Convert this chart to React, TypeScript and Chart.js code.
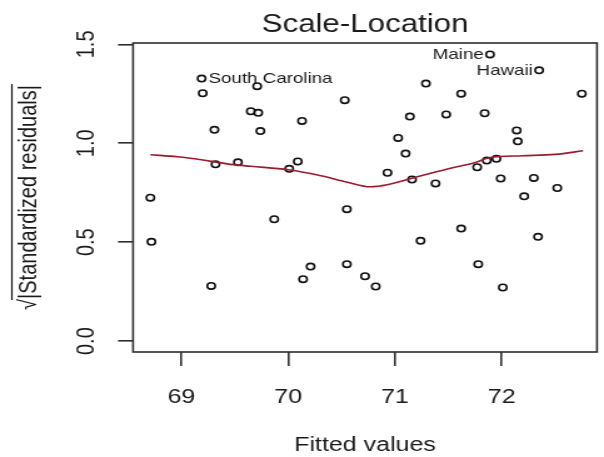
import { useEffect, useRef } from "react";
import { Chart, registerables } from "chart.js";

Chart.register(...registerables);

// ---- data ----
const fittedValues = [
  68.71, 68.72, 69.19, 69.2, 69.28, 69.31, 69.32, 69.53, 69.65, 69.72,
  69.71, 69.74, 69.87, 70.01, 70.09, 70.13, 70.14, 70.21, 70.53, 70.55,
  70.55, 70.72, 70.82, 70.93, 71.03, 71.1, 71.16, 71.14, 71.24, 71.29,
  71.38, 71.48, 71.62, 71.62, 71.89, 71.78, 71.77, 71.86, 71.84, 71.95,
  71.99, 72.01, 72.14, 72.15, 72.21, 72.3, 72.34, 72.35, 72.52, 72.75,
];
const sqrtStdResiduals = [
  0.725, 0.502, 1.327, 1.253, 0.279, 1.068, 0.894, 0.904, 1.162, 1.154,
  1.289, 1.062, 0.616, 0.871, 0.908, 1.113, 0.313, 0.377, 1.218, 0.667,
  0.389, 0.328, 0.276, 0.851, 1.027, 0.948, 0.817, 1.135, 0.507, 1.302,
  0.797, 1.146, 1.251, 0.569, 1.449, 0.389, 0.879, 0.913, 1.152, 0.922,
  0.822, 0.271, 1.065, 1.01, 0.732, 0.825, 0.527, 1.369, 0.774, 1.251,
];
const smoothX = [
  68.71, 68.965, 69.187, 69.428, 69.65, 70.002, 70.307, 70.557, 70.77,
  70.928, 71.178, 71.483, 71.761, 71.881, 72.196, 72.502, 72.761,
];
const smoothY = [
  0.942, 0.932, 0.917, 0.896, 0.884, 0.866, 0.836, 0.803, 0.78,
  0.79, 0.826, 0.869, 0.904, 0.927, 0.937, 0.944, 0.962,
];
const xTicks = [69, 70, 71, 72];
const yTicks = [0, 0.5, 1.0, 1.5];
const idIndex = [2, 34, 47];
const idNames = ["South Carolina", "Maine", "Hawaii"];
const chartTitle = "Scale-Location";
const xTitle = "Fitted values";
const yTitle = "√|Standardized residuals|";

const X_MIN = 68.548;
const X_MAX = 72.892;
const Y_MIN = -0.055;
const Y_MAX = 1.507;

// drawing surface is narrower and stretched horizontally by CSS (like the reference)
const CANVAS_W = 483;
const DISPLAY_W = 604;
const H = 457;
const FAMILY = '"Liberation Sans", Arial, Helvetica, sans-serif';
const INK = "#1a1a1a";
const AXIS = "#2e2e2e";

const boxPlugin = {
  id: "rbox",
  afterDatasetsDraw(chart: any) {
    const { ctx, chartArea: a } = chart;
    ctx.save();
    ctx.strokeStyle = AXIS;
    ctx.lineWidth = 1.6;
    ctx.strokeRect(a.left, a.top, a.right - a.left, a.bottom - a.top);
    ctx.restore();
  },
};

const idLabelPlugin = {
  id: "idlabels",
  afterDatasetsDraw(chart: any) {
    const { ctx } = chart;
    const meta = chart.getDatasetMeta(0);
    const mid = (X_MIN + X_MAX) / 2;
    ctx.save();
    ctx.font = `15px ${FAMILY}`;
    ctx.fillStyle = INK;
    ctx.textBaseline = "middle";
    idIndex.forEach((idx, k) => {
      const el = meta.data[idx];
      if (!el) return;
      const right = fittedValues[idx] < mid;
      ctx.textAlign = right ? "left" : "right";
      ctx.fillText(idNames[k], right ? el.x + 5.5 : el.x - 5, el.y + 0.5);
    });
    ctx.restore();
  },
};

const overbarPlugin = {
  id: "sqrtbar",
  afterDraw(chart: any) {
    const ys = chart.scales.y;
    const { ctx } = chart;
    ctx.save();
    ctx.font = `20px ${FAMILY}`;
    const total = ctx.measureText(yTitle).width;
    const wr = ctx.measureText("√").width;
    const cx = ys.left + 11 + 12;
    const cy = (ys.top + ys.bottom) / 2;
    ctx.translate(cx, cy);
    ctx.rotate(-Math.PI / 2);
    ctx.beginPath();
    ctx.moveTo(-total / 2 + wr * 0.9, -13.5);
    ctx.lineTo(total / 2 + 1, -13.5);
    ctx.lineWidth = 1.2;
    ctx.strokeStyle = INK;
    ctx.stroke();
    ctx.restore();
  },
};

export default function App() {
  const ref = useRef<HTMLCanvasElement | null>(null);

  useEffect(() => {
    document.body.style.margin = "0";
    const canvas = ref.current;
    if (!canvas) return;
    const points = fittedValues.map((x, i) => ({ x, y: sqrtStdResiduals[i] }));
    const smooth = smoothX.map((x, i) => ({ x, y: smoothY[i] }));

    const chart = new Chart(canvas, {
      type: "scatter",
      data: {
        datasets: [
          {
            type: "scatter",
            data: points,
            pointStyle: "circle",
            pointRadius: 3.2,
            pointBorderWidth: 1.6,
            borderColor: "#111111",
            backgroundColor: "rgba(0,0,0,0)",
            order: 2,
          } as any,
          {
            type: "line",
            data: smooth,
            borderColor: "#9c1a2c",
            borderWidth: 1.6,
            pointRadius: 0,
            fill: false,
            cubicInterpolationMode: "monotone",
            order: 1,
          } as any,
        ],
      },
      options: {
        responsive: false,
        animation: false,
        devicePixelRatio: 1,
        layout: { padding: { left: 0, right: 1.6, top: 0, bottom: 0 } },
        plugins: {
          legend: { display: false },
          tooltip: { enabled: false },
          title: {
            display: true,
            fullSize: false,
            text: chartTitle,
            color: INK,
            font: { family: FAMILY, size: 25, weight: "normal", lineHeight: 1.2 },
            padding: { top: 10.5, bottom: 2.5 },
          },
        },
        scales: {
          x: {
            type: "linear",
            position: "bottom",
            min: X_MIN,
            max: X_MAX,
            afterBuildTicks: (s: any) => {
              s.ticks = xTicks.map((v) => ({ value: v }));
            },
            afterFit: (s: any) => {
              s.height = 105;
            },
            grid: {
              display: true,
              drawOnChartArea: false,
              drawTicks: true,
              tickLength: 14,
              color: AXIS,
              lineWidth: 1.6,
            },
            border: { display: false },
            ticks: {
              autoSkip: false,
              maxRotation: 0,
              minRotation: 0,
              padding: 19,
              color: INK,
              font: { family: FAMILY, size: 20, lineHeight: 1.2 },
              callback: (v: any) => String(v),
            },
            title: {
              display: true,
              text: xTitle,
              color: INK,
              font: { family: FAMILY, size: 20, lineHeight: 1.2 },
              padding: { top: 0, bottom: 0 },
            },
          },
          y: {
            type: "linear",
            min: Y_MIN,
            max: Y_MAX,
            afterBuildTicks: (s: any) => {
              s.ticks = yTicks.map((v) => ({ value: v }));
            },
            afterFit: (s: any) => {
              s.width = 106.4;
            },
            grid: {
              display: true,
              drawOnChartArea: false,
              drawTicks: true,
              tickLength: 12,
              color: AXIS,
              lineWidth: 1.6,
            },
            border: { display: false },
            ticks: {
              autoSkip: false,
              minRotation: 90,
              maxRotation: 90,
              crossAlign: "center",
              padding: 11.5,
              color: INK,
              font: { family: FAMILY, size: 20, lineHeight: 1.2 },
              callback: (v: any) => Number(v).toFixed(1),
            },
            title: {
              display: true,
              text: yTitle,
              color: INK,
              font: { family: FAMILY, size: 20, lineHeight: 1.2 },
              padding: { top: 11, bottom: 0 },
            },
          },
        },
      } as any,
      plugins: [boxPlugin, idLabelPlugin, overbarPlugin],
    });

    return () => chart.destroy();
  }, []);

  return (
    <div style={{ width: DISPLAY_W, height: H, background: "#ffffff" }}>
      <canvas
        ref={ref}
        width={CANVAS_W}
        height={H}
        style={{ width: `${DISPLAY_W}px`, height: `${H}px`, display: "block" }}
      />
    </div>
  );
}
